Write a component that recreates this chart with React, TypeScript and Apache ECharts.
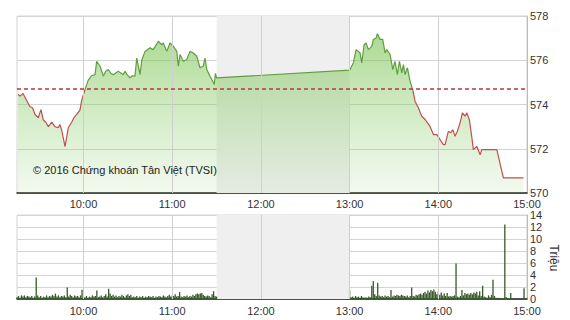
import React, { useEffect, useRef } from "react";
import * as echarts from "echarts";

// Price (index) intraday points
const priceTimes = [
  "9:15:40", "9:17:00", "9:19:06", "9:21:48", "9:23:48", "9:25:30", "9:27:12", "9:29:24", "9:31:12", "9:32:48",
  "9:34:30", "9:36:12", "9:38:30", "9:40:42", "9:42:54", "9:44:00", "9:45:12", "9:47:30", "9:49:42", "9:52:00",
  "9:53:30", "9:55:24", "9:57:36", "9:58:48", "10:01:00", "10:03:12", "10:05:30", "10:07:48", "10:08:54", "10:11:12",
  "10:13:24", "10:15:00", "10:16:48", "10:18:30", "10:20:12", "10:23:30", "10:26:54", "10:28:06", "10:29:30", "10:31:30",
  "10:33:00", "10:34:48", "10:36:00", "10:37:06", "10:38:12", "10:39:24", "10:41:36", "10:45:00", "10:47:12", "10:50:36",
  "10:52:54", "10:54:00", "10:56:18", "10:58:30", "11:00:48", "11:03:06", "11:04:06", "11:05:18", "11:07:30", "11:09:48",
  "11:12:00", "11:14:18", "11:16:36", "11:18:48", "11:21:00", "11:22:12", "11:23:24", "11:25:36", "11:28:30", "11:29:12",
  "11:30:00",
  "13:00:00", "13:02:30", "13:04:24", "13:05:54", "13:07:06", "13:08:12", "13:09:48", "13:11:06", "13:12:42", "13:15:00",
  "13:16:06", "13:17:54", "13:18:48", "13:20:36", "13:22:24", "13:24:00", "13:25:06", "13:27:24", "13:29:12", "13:30:42",
  "13:32:18", "13:33:42", "13:35:18", "13:36:24", "13:37:30", "13:39:06", "13:40:54", "13:42:42", "13:44:18", "13:46:30",
  "13:48:48", "13:51:06", "13:54:24", "13:56:42", "13:59:00", "14:01:12", "14:03:24", "14:04:36", "14:06:48", "14:08:24",
  "14:09:48", "14:11:18", "14:12:54", "14:14:42", "14:16:18", "14:18:06", "14:19:18", "14:21:00", "14:22:36", "14:23:42",
  "14:26:00", "14:28:18", "14:29:24", "14:39:36", "14:44:00", "14:57:36",
];
const priceValues = [
  574.45, 574.38, 574.5, 574.15, 573.9, 573.85, 573.55, 573.4, 573.77, 573.3,
  573.2, 573.0, 573.2, 573.0, 572.95, 573.1, 572.85, 572.1, 572.95, 573.2,
  573.4, 573.55, 573.75, 574.2, 574.67, 575.1, 575.3, 575.35, 575.95, 575.73,
  575.28, 575.5, 575.58, 575.4, 575.35, 575.5, 575.35, 575.5, 575.35, 575.2,
  575.3, 575.28, 576.1, 575.73, 575.35, 576.0, 576.4, 576.56, 576.48, 576.86,
  576.7, 576.78, 576.4, 576.78, 576.63, 576.4, 575.73, 576.26, 575.95, 576.03,
  576.4, 576.33, 576.18, 575.66, 575.73, 576.1, 575.58, 575.28, 574.9, 575.4,
  575.2,
  575.55, 575.88, 576.48, 576.4, 576.33, 575.88, 576.7, 576.78, 576.48, 576.63,
  576.94, 577.01, 577.2, 576.94, 576.94, 576.33, 576.48, 576.26, 575.58, 575.95,
  575.35, 575.95, 575.43, 575.8, 575.35, 575.66, 575.05, 574.67, 574.14, 573.85,
  573.47, 573.32, 573.01, 572.64, 572.64, 572.41, 572.19, 572.19, 572.79, 572.72,
  572.86, 572.56, 572.79, 573.17, 573.62, 573.47, 573.62, 573.32, 572.56, 571.96,
  572.11, 571.73, 571.96, 571.96, 570.68, 570.68,
];
const referencePrice = 574.72;

// Volume (millions), one value per minute
const morningStart = "9:15";
const morningVolumes = [
  0.3, 0.5, 0.2, 0.6, 0.4, 0.6, 0.3, 0.5, 0.4, 0.3,
  0.5, 0.2, 0.4, 3.6, 0.6, 0.3, 0.5, 0.2, 0.4, 0.3,
  0.6, 0.3, 0.5, 0.4, 0.7, 0.5, 0.9, 0.4, 0.6, 0.3,
  0.5, 0.4, 0.6, 0.3, 1.9, 0.4, 0.7, 0.5, 0.3, 0.6,
  0.4, 0.5, 0.3, 0.6, 1.55, 0.4, 0.3, 0.5, 0.2, 0.4,
  0.3, 0.6, 0.4, 0.5, 1.4, 0.3, 0.4, 0.6, 0.3, 0.5,
  0.8, 0.4, 1.7, 0.9, 0.5, 0.7, 0.4, 0.6, 0.3, 0.5,
  0.4, 0.7, 0.5, 0.3, 0.6, 0.8, 0.5, 0.7, 0.3, 0.4,
  0.3, 0.5, 0.2, 0.4, 0.3, 0.5, 0.2, 0.4, 0.3, 0.5,
  0.4, 0.3, 0.5, 0.2, 0.4, 0.3, 0.5, 0.4, 0.3, 0.6,
  0.4, 0.3, 0.5, 0.7, 0.4, 0.6, 0.5, 0.8, 0.4, 0.5,
  1.15, 0.4, 0.3, 0.5, 0.4, 0.6, 0.3, 0.5, 0.4, 0.7,
  0.5, 0.8, 0.9, 0.8, 0.9, 1.0, 0.7, 0.5, 0.4, 0.6,
  0.5, 0.3, 0.8, 1.3, 0.5, 0.4,
];
const afternoonStart = "13:00";
const afternoonVolumes = [
  1.5, 0.3, 0.4, 0.2, 0.5, 0.3, 0.4, 0.2, 0.5, 0.3,
  0.2, 0.3, 0.2, 0.4, 0.3, 2.2, 3.0, 0.8, 0.5, 2.7,
  0.6, 0.4, 0.5, 0.3, 0.6, 0.4, 0.5, 0.3, 1.5, 0.4,
  0.6, 0.5, 0.7, 0.6, 0.5, 0.7, 0.6, 0.5, 0.4, 0.6,
  0.3, 0.5, 1.9, 0.5, 0.4, 0.7, 0.6, 0.8, 0.9, 0.7,
  1.0, 1.2, 0.9, 1.4, 1.1, 1.5, 1.3, 1.6, 1.2, 0.8,
  1.3, 0.7, 1.1, 0.6, 0.9, 0.5, 1.0, 0.4, 0.5, 0.4,
  0.5, 0.6, 5.9, 0.4, 0.3, 0.5, 1.5, 0.6, 1.0, 0.8,
  0.9, 0.7, 1.0, 0.8, 1.1, 0.9, 1.2, 0.6, 1.3, 0.5,
  2.2, 0.4, 0.3, 0.2, 0.6, 0.3, 0.7, 3.2, 0.5, 0.2,
  0.1, 0.2, 0.1, 0, 0.1, 12.4,
];
const lateTimes = ["14:46", "14:49", "14:58"];
const lateVolumes = [0.3, 1.0, 1.8];

const hourTicks = ["10:00", "11:00", "12:00", "13:00", "14:00", "15:00"];
const sessionStart = "9:15";
const sessionEnd = "15:00";
const breakStart = "11:30";
const breakEnd = "13:00";
const copyright = "© 2016 Chứng khoán Tân Việt (TVSI)";
const volumeUnit = "Triệu";

const toMin = (t: string) => {
  const p = t.split(":").map(Number);
  return p[0] * 60 + p[1] + (p[2] || 0) / 60;
};
const fmt = (v: number) => {
  const h = Math.floor(v / 60);
  const m = Math.round(v - h * 60);
  return h + ":" + String(m).padStart(2, "0");
};

export default function App() {
  const ref = useRef<HTMLDivElement>(null);
  useEffect(() => {
    if (!ref.current) return;
    const chart = echarts.init(ref.current, undefined, { renderer: "svg" });
    const font = "Liberation Sans, Arial, sans-serif";
    const xMin = toMin(sessionStart);
    const xMax = toMin(sessionEnd);
    const hours = hourTicks.map(toMin);
    const hourSet = new Set(hours.map((h) => Math.round(h)));
    const priceData = priceTimes.map((t, i) => [toMin(t), priceValues[i]]);
    const m0 = toMin(morningStart);
    const a0 = toMin(afternoonStart);
    const volData = [
      ...morningVolumes.map((v, i) => [m0 + i, v]),
      ...afternoonVolumes.map((v, i) => [a0 + i, v]),
      ...lateTimes.map((t, i) => [toMin(t), lateVolumes[i]]),
    ];
    const gridColor = "#d4d4d4";
    const makeBreakArea = () => ({
      silent: true,
      itemStyle: { color: "#efefef" },
      data: [[{ xAxis: toMin(breakStart) }, { xAxis: toMin(breakEnd) }]],
    });
    const makeHourLines = () => ({
      silent: true,
      symbol: "none",
      label: { show: false },
      lineStyle: { color: "#cfcfcf", type: "solid", width: 1 },
      data: hours.filter((h) => h < xMax).map((h) => ({ xAxis: h })),
    });
    const background = (i: number) => ({
      type: "line",
      xAxisIndex: i,
      yAxisIndex: i,
      data: [],
      silent: true,
      z: 0,
      markArea: makeBreakArea(),
      markLine: makeHourLines(),
    });
    chart.setOption({
      animation: false,
      textStyle: { fontFamily: font },
      grid: [
        { left: 17, right: 43, top: 16, height: 177, show: true, borderColor: gridColor, borderWidth: 1 },
        { left: 17, right: 43, top: 215, height: 84, show: true, borderColor: gridColor, borderWidth: 1 },
      ],
      xAxis: [0, 1].map((i) => ({
        type: "value",
        gridIndex: i,
        min: xMin,
        max: xMax,
        interval: 15,
        axisLine: { show: true, onZero: false, lineStyle: { color: "#222", width: 1.5 } },
        axisTick: { show: false },
        axisLabel: {
          formatter: (v: number) => (hourSet.has(Math.round(v)) ? fmt(v) : ""),
          color: "#333",
          fontSize: 11,
          fontFamily: font,
          margin: i === 0 ? 5 : 6,
          showMinLabel: true,
          showMaxLabel: true,
          hideOverlap: false,
        },
        splitLine: { show: false },
      })),
      yAxis: [
        {
          type: "value",
          gridIndex: 0,
          position: "right",
          min: 570,
          max: 578,
          interval: 2,
          axisLine: { show: true, lineStyle: { color: "#bbb" } },
          axisTick: { show: false },
          axisLabel: { color: "#333", fontSize: 11, fontFamily: font, margin: 3 },
          splitLine: { show: true, lineStyle: { color: gridColor } },
        },
        {
          type: "value",
          gridIndex: 1,
          position: "right",
          min: 0,
          max: 14,
          interval: 2,
          axisLine: { show: true, lineStyle: { color: "#bbb" } },
          axisTick: { show: false },
          axisLabel: { color: "#333", fontSize: 11, fontFamily: font, margin: 3 },
          splitLine: { show: true, lineStyle: { color: gridColor } },
        },
      ],
      visualMap: [
        {
          type: "piecewise",
          show: false,
          seriesIndex: 2,
          dimension: 1,
          pieces: [
            { gt: referencePrice, lte: 600, color: "#5f9e3e" },
            { gte: 500, lte: referencePrice, color: "#c0504d" },
          ],
        },
      ],
      series: [
        background(0),
        background(1),
        {
          type: "line",
          xAxisIndex: 0,
          yAxisIndex: 0,
          data: priceData,
          showSymbol: false,
          symbol: "none",
          lineStyle: { width: 1.2 },
          areaStyle: {
            origin: "start",
            opacity: 1,
            color: new echarts.graphic.LinearGradient(0, 0, 0, 1, [
              { offset: 0, color: "rgba(120,195,80,0.62)" },
              { offset: 1, color: "rgba(150,210,120,0.12)" },
            ]),
          },
          markLine: {
            silent: true,
            symbol: "none",
            label: { show: false },
            lineStyle: { color: "#b53a3a", type: [4, 3], width: 1.5 },
            data: [{ yAxis: referencePrice }],
          },
          z: 3,
        },
        {
          type: "bar",
          xAxisIndex: 1,
          yAxisIndex: 1,
          data: volData,
          barWidth: 1.3,
          itemStyle: { color: "#365a28" },
          z: 3,
        },
      ],
      graphic: [
        {
          type: "text",
          x: 33,
          y: 170,
          style: {
            text: copyright,
            fontSize: 11,
            fontFamily: font,
            fill: "#222",
            verticalAlign: "middle",
          },
          z: 10,
        },
        {
          type: "text",
          x: 554,
          y: 258,
          rotation: -Math.PI / 2,
          style: {
            text: volumeUnit,
            fontSize: 12,
            fontFamily: font,
            fill: "#333",
            align: "center",
            verticalAlign: "middle",
          },
        },
      ],
    });
    return () => chart.dispose();
  }, []);
  return (
    <div
      ref={ref}
      style={{ position: "absolute", left: 0, top: 0, width: 570, height: 320, background: "#fff" }}
    />
  );
}
